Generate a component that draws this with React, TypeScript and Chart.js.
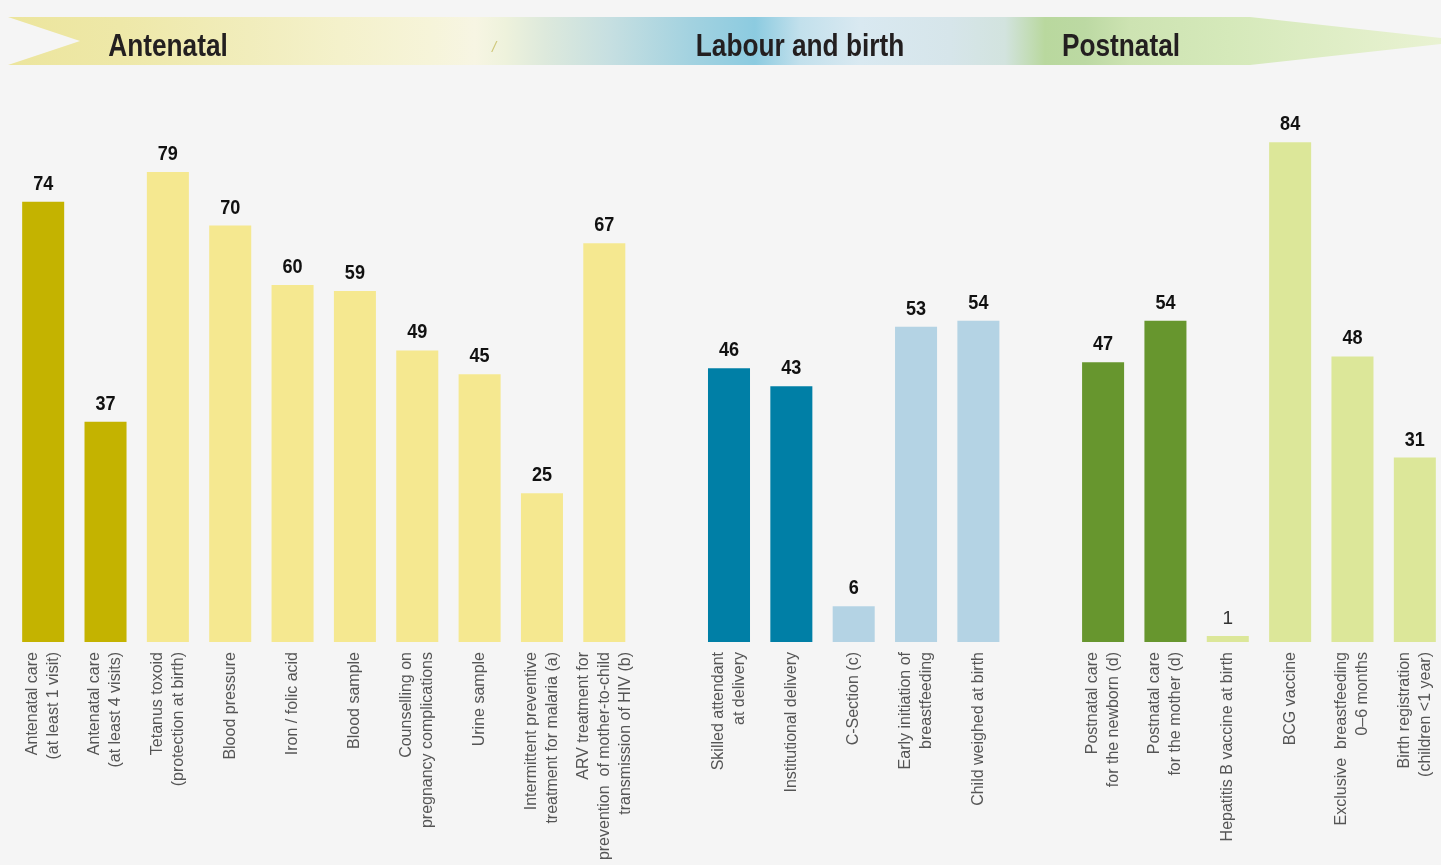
import React, { useEffect, useRef } from "react";
import { Chart, registerables } from "chart.js";

Chart.register(...registerables);

// ---- data ----
const categories: string[][] = [
  ["Antenatal care", "(at least 1 visit)"],
  ["Antenatal care", "(at least 4 visits)"],
  ["Tetanus toxoid", "(protection at birth)"],
  ["Blood pressure"],
  ["Iron / folic acid"],
  ["Blood sample"],
  ["Counselling on", "pregnancy complications"],
  ["Urine sample"],
  ["Intermittent preventive", "treatment for malaria (a)"],
  ["ARV treatment for", "prevention  of mother-to-child", "transmission of HIV (b)"],
  [""],
  ["Skilled attendant", "at delivery"],
  ["Institutional delivery"],
  ["C-Section (c)"],
  ["Early initiation of", "breastfeeding"],
  ["Child weighed at birth"],
  [""],
  ["Postnatal care", "for the newborn (d)"],
  ["Postnatal care", "for the mother (d)"],
  ["Hepatitis B vaccine at birth"],
  ["BCG vaccine"],
  ["Exclusive  breastfeeding", "0–6 months"],
  ["Birth registration", "(children <1 year)"],
];

const values: (number | null)[] = [
  74, 37, 79, 70, 60, 59, 49, 45, 25, 67,
  null,
  46, 43, 6, 53, 54,
  null,
  47, 54, 1, 84, 48, 31,
];

const OLIVE = "#c4b300";
const PALE_YELLOW = "#f5e890";
const TEAL = "#007fa6";
const PALE_BLUE = "#b4d3e4";
const GREEN = "#67962e";
const PALE_GREEN = "#dce799";

const barColors: string[] = [
  OLIVE, OLIVE, PALE_YELLOW, PALE_YELLOW, PALE_YELLOW, PALE_YELLOW, PALE_YELLOW, PALE_YELLOW, PALE_YELLOW, PALE_YELLOW,
  "transparent",
  TEAL, TEAL, PALE_BLUE, PALE_BLUE, PALE_BLUE,
  "transparent",
  GREEN, GREEN, PALE_GREEN, PALE_GREEN, PALE_GREEN, PALE_GREEN,
];

const stageNames: string[] = ["Antenatal", "Labour and birth", "Postnatal"];
const regularLabelIndexes = new Set<number>([19]);

const W = 1446;
const H = 865;

const bannerPlugin = {
  id: "banner",
  beforeDraw(chart: any) {
    const ctx: CanvasRenderingContext2D = chart.ctx;
    ctx.save();
    ctx.fillStyle = "#f5f5f5";
    ctx.fillRect(0, 0, chart.width, chart.height);

    const x0 = 8, x1 = 1441;
    const g = ctx.createLinearGradient(x0, 0, x1, 0);
    const stops: [number, string][] = [
      [8, "#ece59d"],
      [120, "#eee8a8"],
      [250, "#f1edbc"],
      [340, "#f4f1cb"],
      [430, "#f6f4d9"],
      [475, "#f7f5e3"],
      [505, "#eef2dc"],
      [545, "#dde9dc"],
      [610, "#c6dfe1"],
      [690, "#a3d2e0"],
      [755, "#8ccbe0"],
      [800, "#c2e0ec"],
      [860, "#d9e9f1"],
      [950, "#d6e5ea"],
      [1005, "#d2e3de"],
      [1045, "#b9d89e"],
      [1085, "#bcd9a3"],
      [1130, "#cde3b2"],
      [1230, "#d5e9ba"],
      [1441, "#e9f2d2"],
    ];
    stops.forEach(([x, c]) => g.addColorStop((x - x0) / (x1 - x0), c));
    ctx.fillStyle = g;
    ctx.beginPath();
    ctx.moveTo(8, 17);
    ctx.lineTo(1250, 17);
    ctx.lineTo(1441, 38);
    ctx.lineTo(1441, 44);
    ctx.lineTo(1250, 65);
    ctx.lineTo(8, 65);
    ctx.lineTo(80, 41);
    ctx.closePath();
    ctx.fill();

    // small stray slash mark
    ctx.fillStyle = "#cfc77a";
    ctx.font = "italic 15px 'Liberation Sans', Arial, sans-serif";
    ctx.textAlign = "center";
    ctx.textBaseline = "alphabetic";
    ctx.fillText("/", 494, 52);

    const centers = [168, 800, 1121];
    ctx.fillStyle = "#231f20";
    ctx.font = "bold 32px 'Liberation Sans', Arial, sans-serif";
    stageNames.forEach((name, i) => {
      ctx.save();
      ctx.translate(centers[i], 56);
      ctx.scale(0.82, 1);
      ctx.fillText(name, 0, 0);
      ctx.restore();
    });
    ctx.restore();
  },
};

const labelsPlugin = {
  id: "labels",
  afterDatasetsDraw(chart: any) {
    const ctx: CanvasRenderingContext2D = chart.ctx;
    const meta = chart.getDatasetMeta(0);
    meta.data.forEach((bar: any, i: number) => {
      const v = values[i];
      if (v == null) return;
      ctx.save();
      ctx.translate(bar.x, bar.y - 12);
      const regular = regularLabelIndexes.has(i);
      if (regular) {
        ctx.font = "19px 'Liberation Sans', Arial, sans-serif";
        ctx.fillStyle = "#333333";
      } else {
        ctx.scale(0.86, 1);
        ctx.font = "bold 21px 'Liberation Sans', Arial, sans-serif";
        ctx.fillStyle = "#111111";
      }
      ctx.textAlign = "center";
      ctx.textBaseline = "alphabetic";
      ctx.fillText(String(v), 0, 0);
      ctx.restore();
    });

    // category labels, vertical
    const xs = chart.scales.x;
    const top = chart.chartArea.bottom + 10;
    ctx.fillStyle = "#555555";
    ctx.font = "16px 'Liberation Sans', Arial, sans-serif";
    categories.forEach((lines, i) => {
      const x = xs.getPixelForValue(i);
      ctx.save();
      ctx.translate(x, top);
      ctx.rotate(-Math.PI / 2);
      ctx.textAlign = "right";
      ctx.textBaseline = "middle";
      const lh = 21;
      lines.forEach((line, j) => {
        ctx.fillText(line, 0, (j - (lines.length - 1) / 2) * lh);
      });
      ctx.restore();
    });
  },
};

export default function App() {
  const ref = useRef<HTMLCanvasElement | null>(null);

  useEffect(() => {
    document.body.style.margin = "0";
    document.body.style.overflow = "hidden";
    document.body.style.background = "#f5f5f5";
    if (!ref.current) return;
    const chart = new Chart(ref.current, {
      type: "bar",
      data: {
        labels: categories.map((c) => c.join(" ")),
        datasets: [
          {
            data: values as any,
            backgroundColor: barColors,
            borderWidth: 0,
            barPercentage: 0.674,
            categoryPercentage: 1,
          },
        ],
      },
      options: {
        animation: false,
        responsive: false,
        maintainAspectRatio: false,
        layout: { padding: { left: 12, right: 0, top: 47, bottom: 0 } },
        plugins: { legend: { display: false }, tooltip: { enabled: false } },
        scales: {
          x: {
            grid: { display: false },
            border: { display: false },
            ticks: { display: false },
            afterFit: (s: any) => {
              s.height = 223;
            },
          },
          y: { display: false, min: 0, max: 100 },
        },
      },
      plugins: [bannerPlugin, labelsPlugin],
    });
    return () => chart.destroy();
  }, []);

  return (
    <div style={{ width: W, height: H, overflow: "hidden" }}>
      <canvas ref={ref} width={W} height={H} style={{ display: "block", width: W, height: H }} />
    </div>
  );
}
